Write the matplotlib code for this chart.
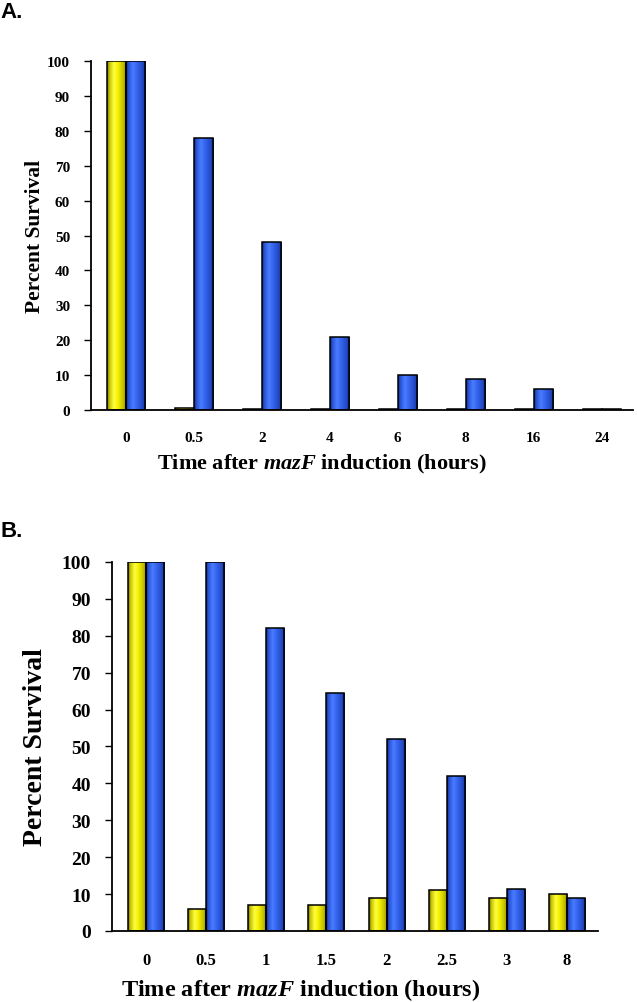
import numpy as np
import matplotlib
matplotlib.use("Agg")
from matplotlib import pyplot as plt
from matplotlib.colors import LinearSegmentedColormap

# Panel A data
times_a = ["0", "0.5", "2", "4", "6", "8", "16", "24"]
yellow_a = [100, 0.6, 0.2, 0.2, 0.2, 0.2, 0.2, 0.2]
blue_a = [100, 78, 48, 21, 10, 9, 6, 0.2]

# Panel B data
times_b = ["0", "0.5", "1", "1.5", "2", "2.5", "3", "8"]
yellow_b = [100, 6, 7, 7, 9, 11, 9, 10]
blue_b = [100, 100, 82, 64.5, 52, 42, 11.5, 9]

yticks = [0, 10, 20, 30, 40, 50, 60, 70, 80, 90, 100]

serif = ["Liberation Serif", "DejaVu Serif"]

# cylinder-like shading: dark edges, bright just left of centre
yellow_cmap = LinearSegmentedColormap.from_list(
    "ycyl", [(0, "#6e6a00"), (0.12, "#c8c400"), (0.35, "#ffff40"),
             (0.55, "#f4f000"), (0.85, "#bdb800"), (1, "#6e6a00")])
blue_cmap = LinearSegmentedColormap.from_list(
    "bcyl", [(0, "#0d2a80"), (0.12, "#2a55d8"), (0.35, "#4a7cff"),
             (0.55, "#3565f0"), (0.85, "#2348c0"), (1, "#0d2a80")])

grad = np.linspace(0, 1, 64).reshape(1, -1)


def shaded_bars(ax, x, heights, width, cmap):
    bars = ax.bar(x, heights, width, facecolor="none", edgecolor="black",
                  linewidth=1.1, zorder=3)
    for b in bars:
        x0, y0 = b.get_x(), b.get_y()
        w, h = b.get_width(), b.get_height()
        im = ax.imshow(grad, extent=[x0, x0 + w, y0, y0 + h], aspect="auto",
                       cmap=cmap, zorder=2, interpolation="bilinear")
        im.set_clip_path(b)
    return bars


def panel(ax, labels, yel, blu, width, xlim, sizes, label_pos):
    ytick_size, xtick_size, ylab_size, xlab_size = sizes
    x = np.arange(len(labels))
    shaded_bars(ax, x - width / 2, yel, width, yellow_cmap)
    shaded_bars(ax, x + width / 2, blu, width, blue_cmap)
    ax.set_xlim(*xlim)
    ax.set_ylim(0, 100)
    ax.set_yticks(yticks)
    ax.set_xticks(x)
    ax.set_xticklabels(labels)
    for s in ["top", "right"]:
        ax.spines[s].set_visible(False)
    ax.spines["left"].set_linewidth(1.3)
    ax.spines["bottom"].set_linewidth(1.3)
    ax.tick_params(axis="y", direction="out", length=5, width=1.0, pad=10)
    ax.tick_params(axis="x", length=0, pad=15)
    for t in ax.get_yticklabels():
        t.set_fontfamily(serif)
        t.set_fontweight("bold")
        t.set_fontsize(ytick_size)
    for t in ax.get_xticklabels():
        t.set_fontfamily(serif)
        t.set_fontweight("bold")
        t.set_fontsize(xtick_size)
    ax.set_ylabel("Percent Survival", family=serif, fontweight="bold",
                  fontsize=ylab_size, va="center")
    ax.set_xlabel("Time after $\\mathbfit{mazF}$ induction (hours)",
                  family=serif, fontweight="bold", fontsize=xlab_size,
                  va="center")
    ax.yaxis.set_label_coords(label_pos[0], 0.5)
    ax.xaxis.set_label_coords(label_pos[1], label_pos[2])


plt.rcParams["mathtext.fontset"] = "custom"
plt.rcParams["mathtext.bfit"] = "Liberation Serif:bold:italic"

fig = plt.figure(figsize=(6.37, 10.03), dpi=100)

ax1 = fig.add_axes([0.1429, 0.5902, 0.851, 0.348])
panel(ax1, times_a, yellow_a, blue_a, 0.28, (-0.51, 7.46),
      (11, 11, 15.5, 16), (-0.103, 0.426, -0.152))

ax2 = fig.add_axes([0.1758, 0.0708, 0.763, 0.368])
panel(ax2, times_b, yellow_b, blue_b, 0.3, (-0.566, 7.516),
      (14, 12, 20, 17.5), (-0.158, 0.389, -0.157))

fig.text(0.0, 0.998, "A.", family=["Liberation Sans", "DejaVu Sans"],
         fontweight="bold", fontsize=16, va="top", ha="left")
fig.text(0.0, 0.481, "B.", family=["Liberation Sans", "DejaVu Sans"],
         fontweight="bold", fontsize=16, va="top", ha="left")

fig.savefig("out.png", dpi=100)
